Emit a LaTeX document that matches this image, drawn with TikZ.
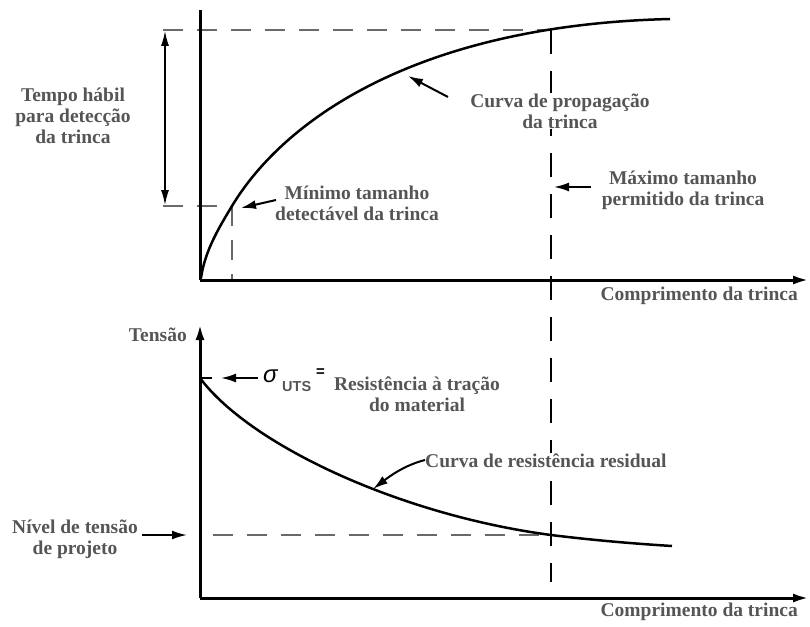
\documentclass[tikz,border=0pt]{standalone}
\usepackage{fontspec}
\setmainfont{Liberation Serif}
\newfontfamily\sgfont{Liberation Sans}
\usetikzlibrary{arrows.meta}
\definecolor{txtgray}{RGB}{85,85,85}
\definecolor{dashgray}{RGB}{105,105,105}
\tikzset{
  lbl/.style={text=txtgray, font=\bfseries\fontsize{19.5}{21}\selectfont, align=center, inner sep=1pt},
  axisline/.style={line width=3pt, -{Latex[length=16pt,width=9pt]}},
  axisplain/.style={line width=3pt},
  curveline/.style={line width=2.5pt, black},
  gdash/.style={line width=2.3pt, dashgray, dash pattern=on 20pt off 14pt},
  kdash/.style={line width=2.3pt, black, dash pattern=on 24pt off 17pt},
  pointer/.style={line width=2pt, -{Latex[length=15pt,width=9pt]}},
  dimarrow/.style={line width=1.3pt, {Latex[length=15pt,width=8pt]}-{Latex[length=15pt,width=8pt]}}
}
\begin{document}
\begin{tikzpicture}[x=1pt,y=-1pt]
\useasboundingbox (0,0) rectangle (810,626);
% ---------- top chart ----------
\coordinate (o1) at (200,280);
\coordinate (c1s) at (201,278);
\coordinate (y1top) at (200,10);
\coordinate (x1end) at (809,280);
\coordinate (pmin) at (232,206);
\coordinate (pmax) at (551,30);
\coordinate (c1e) at (670,19);
\coordinate (lefttop) at (163,30);
\coordinate (leftmin) at (163,206);
\coordinate (pminbase) at (232,280);
\coordinate (dimtop) at (165,31);
\coordinate (dimbot) at (165,205);
\coordinate (vbot) at (551,582);

\draw[gdash] (lefttop) -- (pmax);
\draw[gdash] (leftmin) -- (pmin);
\draw[gdash] (pmin) -- (pminbase);
\draw[dimarrow] (dimtop) -- (dimbot);

\draw[kdash] (pmax) -- (vbot);

\draw[axisplain] (y1top) -- (o1);
\draw[axisline] (o1) -- (x1end);

\draw[curveline] (c1s) .. controls (205,250) and (220,226) .. (pmin)
  .. controls (285,118) and (420,25) .. (c1e);

\node[lbl] (tempo) at (73,116) {Tempo hábil\\para detecção\\da trinca};
\node[lbl, fill=white] (cprop) at (560,111) {Curva de propagação\\da trinca};
\node[lbl] (minimo) at (357,203) {Mínimo tamanho\\detectável da trinca};
\node[lbl] (maximo) at (683,190) {Máximo tamanho\\permitido da trinca};
\node[lbl, anchor=east] (comp1) at (799,296) {Comprimento da trinca};

\coordinate (cpt) at (448,97);
\coordinate (cph) at (408,76);
\draw[pointer] (cpt) -- (cph);
\coordinate (mint) at (276,200);
\coordinate (minh) at (241,208);
\draw[pointer] (mint) -- (minh);
\coordinate (maxt) at (591,187);
\coordinate (maxh) at (554,187);
\draw[pointer] (maxt) -- (maxh);

% ---------- bottom chart ----------
\coordinate (o2) at (200,598);
\coordinate (y2top) at (200,324);
\coordinate (x2end) at (809,598);
\coordinate (puts) at (200,378);
\coordinate (putsd) at (212,378);
\coordinate (pdes) at (551,535);
\coordinate (desl) at (213,535);
\coordinate (c2e) at (672,546);

\draw[gdash] (desl) -- (pdes);
\draw[axisline] (o2) -- (y2top);
\draw[axisline] (o2) -- (x2end);
\draw[line width=2.3pt, black] (puts) -- (putsd);

\draw[curveline] (puts) .. controls (250,445) and (400,515) .. (pdes)
  .. controls (600,541) and (640,544) .. (c2e);

\node[lbl, anchor=east] (tensao) at (188,335) {Tensão};
\node[anchor=west, inner sep=0pt] (sigma) at (263,376) {\sgfont\itshape\fontsize{24}{24}\selectfont σ};
\node[anchor=west, inner sep=0pt, text=txtgray] (uts) at (282,387) {\sgfont\bfseries\fontsize{14.5}{15}\selectfont UTS};
\node[anchor=west, inner sep=0pt] (eqs) at (316,373) {\sgfont\bfseries\fontsize{15}{15}\selectfont =};
\node[lbl] (resist) at (417,394) {Resistência à tração\\do material};
\node[lbl, fill=white, anchor=west] (cres) at (424,461) {Curva de resistência residual};
\node[lbl] (nivel) at (75,539) {Nível de tensão\\de projeto};
\node[lbl, anchor=east] (comp2) at (799,612) {Comprimento da trinca};

\coordinate (utst) at (258,378);
\coordinate (utsh) at (221,378);
\draw[pointer] (utst) -- (utsh);
\coordinate (crt) at (425,460);
\coordinate (crh) at (373,489);
\draw[pointer] (crt) .. controls (405,465) and (390,476) .. (crh);
\coordinate (nvt) at (142,535);
\coordinate (nvh) at (187,535);
\draw[pointer] (nvt) -- (nvh);
\end{tikzpicture}
\end{document}
